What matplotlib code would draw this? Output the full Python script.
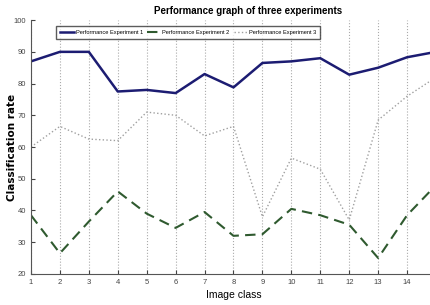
import matplotlib.pyplot as plt

image_class = [1, 2, 3, 4, 5, 6, 7, 8, 9, 10, 11, 12, 13, 14, 15]
exp1 = [87, 90, 90, 77.5, 78, 77, 83, 78.8, 86.5, 87, 88, 82.8, 85, 88.3, 90]
exp2 = [38.5, 26.5, 36.5, 46, 39, 34.5, 39.5, 32, 32.5, 40.5, 38.5, 35.5, 25, 38.5, 48]
exp3 = [60, 66.5, 62.5, 62, 71, 70, 63.5, 66.5, 38, 56.5, 53, 37, 68.5, 76, 82]
xticks = list(range(1, 15))
yticks = [20, 30, 40, 50, 60, 70, 80, 90, 100]

narrow = ["Liberation Sans", "DejaVu Sans"]

fig = plt.figure(figsize=(4.3, 3.05), dpi=100)
ax = fig.add_axes([0.072, 0.102, 0.942, 0.832])

ax.plot(image_class, exp1, color="#1c1c72", lw=1.8, label="Performance Experiment 1")
ax.plot(image_class, exp2, color="#2f5a2f", lw=1.5, ls=(0, (5, 3)), label="Performance Experiment 2")
ax.plot(image_class, exp3, color="#a0a0a0", lw=1.0, ls=":", label="Performance Experiment 3")

ax.set_xlim(1, 15)
ax.set_ylim(20, 100)
ax.set_xticks(xticks)
ax.set_yticks(yticks)
ax.tick_params(direction="in", labelsize=5.5, length=3, colors="#444444")
for lab in ax.get_xticklabels() + ax.get_yticklabels():
    lab.set_family(narrow)
ax.grid(True, axis="x", ls=":", color="#aaaaaa", lw=0.8)
for s in ["top", "right"]:
    ax.spines[s].set_visible(False)
for s in ["left", "bottom"]:
    ax.spines[s].set_color("#555555")
    ax.spines[s].set_linewidth(0.8)

ax.legend(loc="upper left", bbox_to_anchor=(0.055, 0.99), ncol=3,
          prop={"family": narrow, "size": 4.1},
          frameon=True, fancybox=False, edgecolor="#333333", handlelength=2.4,
          columnspacing=0.7, handletextpad=0.3, borderpad=0.75)

fig.text(0.578, 0.965, "Performance graph of three experiments", ha="center", va="center",
         fontsize=7.0, fontweight="bold", family=narrow)
ax.set_ylabel("Classification rate", fontsize=7.5, fontweight="bold")
ax.yaxis.set_label_coords(-0.035, 0.5)
ax.set_xlabel("Image class", fontsize=7.5, family=narrow, labelpad=3)

fig.savefig("out.png", dpi=100)
